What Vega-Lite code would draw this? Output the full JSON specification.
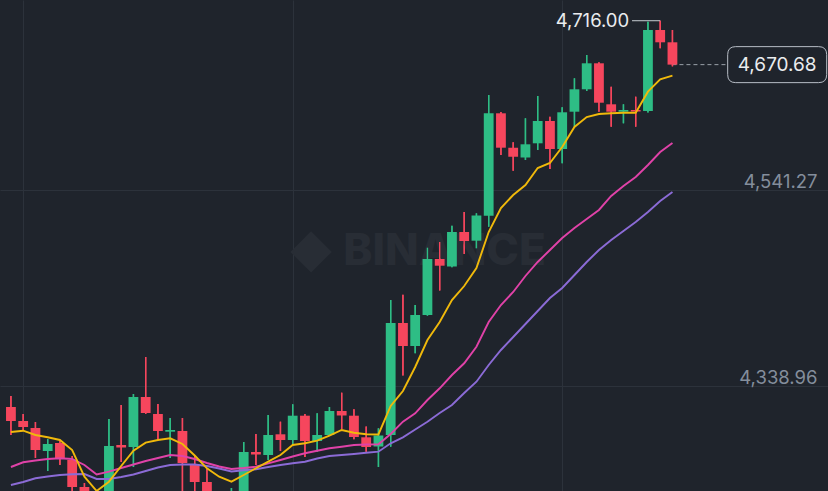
{
  "$schema": "https://vega.github.io/schema/vega-lite/v6.json",
  "width": 828,
  "height": 491,
  "autosize": "none",
  "padding": 0,
  "background": "#1f242c",
  "config": {
    "view": {"stroke": null},
    "font": "Inter",
    "axisX": {"grid": true, "gridColor": "#2c323b", "gridWidth": 1, "labels": false, "ticks": false, "domain": false, "title": null},
    "axisY": {"title": null, "domain": false, "ticks": false, "tickSize": 0, "labelPadding": -11, "labelAlign": "right", "labelBaseline": "alphabetic", "labelOffset": -3, "labelFont": "Inter", "labelFontSize": 18.5, "labelColor": "#848e9c", "grid": true, "gridColor": "#2c323b", "gridWidth": 1, "labelBound": false, "labelOverlap": false, "labelFlush": false}
  },
  "data": {"values": [
    {"i":0,"open":4317.29,"high":4328.64,"low":4288.39,"close":4302.84,"ma7":4291.48,"ma25":4255.36,"ma99":4236.78},
    {"i":1,"open":4302.84,"high":4310.06,"low":4293.55,"close":4296.64,"ma7":4292.83,"ma25":4260.21,"ma99":4239.87},
    {"i":2,"open":4295.61,"high":4301.81,"low":4264.65,"close":4272.90,"ma7":4288.39,"ma25":4262.07,"ma99":4243.69},
    {"i":3,"open":4271.87,"high":4284.26,"low":4251.23,"close":4279.10,"ma7":4286.01,"ma25":4263.61,"ma99":4245.55},
    {"i":4,"open":4280.13,"high":4282.19,"low":4257.42,"close":4264.65,"ma7":4283.23,"ma25":4264.34,"ma99":4247.10},
    {"i":5,"open":4262.58,"high":4266.71,"low":4229.55,"close":4234.71,"ma7":4272.90,"ma25":4263.61,"ma99":4247.82},
    {"i":6,"open":4234.71,"high":4238.84,"low":4195.49,"close":4205.81,"ma7":4245.34,"ma25":4257.42,"ma99":4248.13},
    {"i":7,"open":4205.81,"high":4210.97,"low":4174.85,"close":4190.33,"ma7":4230.58,"ma25":4247.62,"ma99":4242.97},
    {"i":8,"open":4195.49,"high":4304.90,"low":4190.33,"close":4277.03,"ma7":4240.18,"ma25":4250.51,"ma99":4242.97},
    {"i":9,"open":4278.07,"high":4319.35,"low":4260.52,"close":4275.48,"ma7":4256.39,"ma25":4254.33,"ma99":4245.04},
    {"i":10,"open":4276.00,"high":4330.71,"low":4255.36,"close":4327.61,"ma7":4272.18,"ma25":4257.94,"ma99":4247.62},
    {"i":11,"open":4327.61,"high":4368.90,"low":4310.06,"close":4311.10,"ma7":4280.44,"ma25":4261.55,"ma99":4251.23},
    {"i":12,"open":4310.06,"high":4320.39,"low":4283.23,"close":4292.52,"ma7":4283.23,"ma25":4264.65,"ma99":4254.84},
    {"i":13,"open":4291.79,"high":4305.93,"low":4264.65,"close":4293.55,"ma7":4284.98,"ma25":4267.74,"ma99":4257.42},
    {"i":14,"open":4292.52,"high":4305.93,"low":4224.39,"close":4259.49,"ma7":4279.10,"ma25":4266.71,"ma99":4257.94},
    {"i":15,"open":4257.42,"high":4266.71,"low":4221.29,"close":4239.87,"ma7":4267.23,"ma25":4263.61,"ma99":4257.94},
    {"i":16,"open":4239.87,"high":4253.29,"low":4210.97,"close":4221.29,"ma7":4254.02,"ma25":4259.49,"ma99":4256.39},
    {"i":17,"open":4221.29,"high":4226.46,"low":4200.65,"close":4210.97,"ma7":4245.34,"ma25":4255.87,"ma99":4253.81},
    {"i":18,"open":4205.81,"high":4233.68,"low":4195.49,"close":4226.46,"ma7":4240.18,"ma25":4253.29,"ma99":4250.71},
    {"i":19,"open":4221.29,"high":4281.16,"low":4216.13,"close":4270.84,"ma7":4247.10,"ma25":4254.33,"ma99":4251.95},
    {"i":20,"open":4270.84,"high":4289.42,"low":4257.42,"close":4268.26,"ma7":4254.02,"ma25":4255.67,"ma99":4252.98},
    {"i":21,"open":4267.74,"high":4309.03,"low":4262.58,"close":4288.39,"ma7":4260.83,"ma25":4259.18,"ma99":4255.36},
    {"i":22,"open":4289.11,"high":4302.12,"low":4271.87,"close":4283.23,"ma7":4267.74,"ma25":4262.58,"ma99":4257.42},
    {"i":23,"open":4283.23,"high":4320.08,"low":4278.07,"close":4308.31,"ma7":4278.07,"ma25":4266.20,"ma99":4259.18},
    {"i":24,"open":4308.31,"high":4310.06,"low":4265.68,"close":4282.19,"ma7":4279.82,"ma25":4269.50,"ma99":4260.83},
    {"i":25,"open":4282.19,"high":4310.79,"low":4271.15,"close":4288.39,"ma7":4282.50,"ma25":4272.18,"ma99":4264.13},
    {"i":26,"open":4288.39,"high":4317.29,"low":4287.36,"close":4313.16,"ma7":4287.66,"ma25":4274.66,"ma99":4266.71},
    {"i":27,"open":4313.16,"high":4332.05,"low":4294.58,"close":4308.52,"ma7":4293.55,"ma25":4276.31,"ma99":4267.74},
    {"i":28,"open":4308.31,"high":4314.91,"low":4283.95,"close":4286.32,"ma7":4290.76,"ma25":4278.07,"ma99":4268.78},
    {"i":29,"open":4286.01,"high":4297.16,"low":4271.15,"close":4276.00,"ma7":4289.11,"ma25":4278.58,"ma99":4270.01},
    {"i":30,"open":4276.52,"high":4295.30,"low":4255.36,"close":4287.87,"ma7":4288.90,"ma25":4278.79,"ma99":4271.15},
    {"i":31,"open":4288.39,"high":4427.73,"low":4276.31,"close":4403.99,"ma7":4318.32,"ma25":4289.42,"ma99":4279.82},
    {"i":32,"open":4403.99,"high":4433.20,"low":4349.80,"close":4380.25,"ma7":4333.80,"ma25":4302.12,"ma99":4286.01},
    {"i":33,"open":4380.25,"high":4422.57,"low":4372.72,"close":4412.25,"ma7":4358.58,"ma25":4310.79,"ma99":4294.06},
    {"i":34,"open":4412.25,"high":4481.72,"low":4411.53,"close":4470.05,"ma7":4386.45,"ma25":4324.51,"ma99":4302.12},
    {"i":35,"open":4470.05,"high":4487.60,"low":4437.54,"close":4463.14,"ma7":4405.02,"ma25":4336.59,"ma99":4311.10},
    {"i":36,"open":4462.31,"high":4504.42,"low":4461.49,"close":4497.92,"ma7":4427.73,"ma25":4350.32,"ma99":4319.35},
    {"i":37,"open":4497.92,"high":4518.57,"low":4475.21,"close":4488.63,"ma7":4442.18,"ma25":4362.40,"ma99":4331.74},
    {"i":38,"open":4488.94,"high":4517.22,"low":4481.10,"close":4514.95,"ma7":4460.76,"ma25":4379.53,"ma99":4343.40},
    {"i":39,"open":4514.75,"high":4639.33,"low":4503.39,"close":4620.44,"ma7":4497.92,"ma25":4405.02,"ma99":4360.64},
    {"i":40,"open":4620.44,"high":4621.78,"low":4577.40,"close":4584.94,"ma7":4522.69,"ma25":4422.57,"ma99":4376.12},
    {"i":41,"open":4584.94,"high":4590.51,"low":4561.20,"close":4575.65,"ma7":4536.11,"ma25":4435.99,"ma99":4389.54},
    {"i":42,"open":4574.82,"high":4615.28,"low":4572.24,"close":4588.44,"ma7":4546.43,"ma25":4452.51,"ma99":4402.96},
    {"i":43,"open":4589.48,"high":4638.30,"low":4582.56,"close":4612.49,"ma7":4563.98,"ma25":4466.96,"ma99":4416.38},
    {"i":44,"open":4612.49,"high":4616.93,"low":4562.95,"close":4583.59,"ma7":4569.14,"ma25":4479.34,"ma99":4429.80},
    {"i":45,"open":4583.59,"high":4626.64,"low":4568.83,"close":4621.48,"ma7":4585.66,"ma25":4491.73,"ma99":4440.12},
    {"i":46,"open":4622.09,"high":4656.57,"low":4606.61,"close":4645.22,"ma7":4606.30,"ma25":4502.05,"ma99":4453.54},
    {"i":47,"open":4645.22,"high":4680.62,"low":4643.46,"close":4672.05,"ma7":4616.62,"ma25":4511.34,"ma99":4466.96},
    {"i":48,"open":4672.05,"high":4673.08,"low":4622.09,"close":4631.38,"ma7":4619.72,"ma25":4520.63,"ma99":4479.34},
    {"i":49,"open":4629.73,"high":4647.90,"low":4606.61,"close":4622.09,"ma7":4620.44,"ma25":4535.08,"ma99":4489.66},
    {"i":50,"open":4622.09,"high":4629.73,"low":4610.12,"close":4623.85,"ma7":4621.06,"ma25":4545.40,"ma99":4498.95},
    {"i":51,"open":4623.85,"high":4637.58,"low":4606.61,"close":4622.30,"ma7":4621.06,"ma25":4554.69,"ma99":4508.24},
    {"i":52,"open":4622.82,"high":4715.00,"low":4621.27,"close":4706.42,"ma7":4642.74,"ma25":4567.08,"ma99":4518.57},
    {"i":53,"open":4706.42,"high":4716.00,"low":4687.54,"close":4693.73,"ma7":4655.54,"ma25":4580.50,"ma99":4529.92},
    {"i":54,"open":4693.73,"high":4706.42,"low":4668.90,"close":4670.68,"ma7":4659.25,"ma25":4589.79,"ma99":4539.21}
  ]},
  "layer": [
    {
      "mark": {"type": "rule", "strokeWidth": 1.4, "clip": true},
      "encoding": {
        "x": {"field": "i", "type": "quantitative",
              "scale": {"domain": [-0.484, 66.29], "nice": false, "zero": false},
              "axis": {"values": [1, 23, 45], "title": null}},
        "y": {"field": "low", "type": "quantitative",
              "scale": {"domain": [4230.58, 4737.39], "nice": false, "zero": false},
              "axis": {"orient": "right", "values": [4338.96, 4541.27], "format": ",.2f", "title": null}},
        "y2": {"field": "high"},
        "color": {"condition": {"test": "datum.close >= datum.open", "value": "#2ebd85"}, "value": "#f6465d"}
      }
    },
    {
      "transform": [{"filter": "datum.i == 54"}],
      "mark": {"type": "point", "shape": "diamond", "filled": true, "size": 1700, "color": "#282d35", "opacity": 1},
      "encoding": {
        "x": {"datum": 24.5, "type": "quantitative"},
        "y": {"datum": 4477.3, "type": "quantitative"}
      }
    },
    {
      "transform": [{"filter": "datum.i == 54"}],
      "mark": {"type": "text", "text": "BINANCE", "font": "Inter", "fontWeight": 800, "fontSize": 44, "color": "#282d35", "align": "center", "baseline": "middle"},
      "encoding": {
        "x": {"datum": 35.4, "type": "quantitative"},
        "y": {"datum": 4477.3, "type": "quantitative"}
      }
    },
    {
      "transform": [{"filter": "datum.i == 54"}],
      "mark": {"type": "rule", "color": "#9aa0a8", "strokeWidth": 1, "strokeDash": [4, 3]},
      "encoding": {
        "x": {"field": "i", "type": "quantitative"},
        "x2": {"datum": 58.5},
        "y": {"field": "close", "type": "quantitative"}
      }
    },
    {
      "mark": {"type": "rule", "strokeWidth": 1.4, "clip": true},
      "encoding": {
        "x": {"field": "i", "type": "quantitative"},
        "y": {"field": "low", "type": "quantitative"},
        "y2": {"field": "high"},
        "color": {"condition": {"test": "datum.close >= datum.open", "value": "#2ebd85"}, "value": "#f6465d"}
      }
    },
    {
      "mark": {"type": "bar", "size": 9.8, "clip": true},
      "encoding": {
        "x": {"field": "i", "type": "quantitative"},
        "y": {"field": "open", "type": "quantitative"},
        "y2": {"field": "close"},
        "color": {"condition": {"test": "datum.close >= datum.open", "value": "#2ebd85"}, "value": "#f6465d"}
      }
    },
    {
      "mark": {"type": "line", "color": "#8b6bd6", "strokeWidth": 1.9, "clip": true},
      "encoding": {
        "x": {"field": "i", "type": "quantitative"},
        "y": {"field": "ma99", "type": "quantitative"}
      }
    },
    {
      "mark": {"type": "line", "color": "#e042a8", "strokeWidth": 1.9, "clip": true},
      "encoding": {
        "x": {"field": "i", "type": "quantitative"},
        "y": {"field": "ma25", "type": "quantitative"}
      }
    },
    {
      "mark": {"type": "line", "color": "#f0b90b", "strokeWidth": 1.9, "clip": true},
      "encoding": {
        "x": {"field": "i", "type": "quantitative"},
        "y": {"field": "ma7", "type": "quantitative"}
      }
    },
    {
      "transform": [{"filter": "datum.i == 53"}],
      "mark": {"type": "rule", "color": "#c7ccd3", "strokeWidth": 1},
      "encoding": {
        "x": {"field": "i", "type": "quantitative"},
        "x2": {"datum": 50.7},
        "y": {"field": "high", "type": "quantitative"}
      }
    },
    {
      "transform": [{"filter": "datum.i == 53"}],
      "mark": {"type": "text", "align": "right", "baseline": "middle", "dx": -31, "font": "Inter", "fontSize": 18.5, "color": "#eaecef"},
      "encoding": {
        "x": {"field": "i", "type": "quantitative"},
        "y": {"field": "high", "type": "quantitative"},
        "text": {"field": "high", "type": "quantitative", "format": ",.2f"}
      }
    },
    {
      "transform": [{"filter": "datum.i == 54"}],
      "mark": {"type": "point", "shape": "M-0.8384,-0.3636L0.8384,-0.3636Q1,-0.3636,1,-0.202L1,0.202Q1,0.3636,0.8384,0.3636L-0.8384,0.3636Q-1,0.3636,-1,0.202L-1,-0.202Q-1,-0.3636,-0.8384,-0.3636Z", "size": 9801, "filled": true, "fill": "#1f242c", "stroke": "#b7bdc6", "strokeWidth": 1, "opacity": 1, "fillOpacity": 1, "strokeOpacity": 1},
      "encoding": {
        "x": {"datum": 62.55, "type": "quantitative"},
        "y": {"field": "close", "type": "quantitative"}
      }
    },
    {
      "transform": [{"filter": "datum.i == 54"}],
      "mark": {"type": "text", "align": "center", "baseline": "middle", "font": "Inter", "fontSize": 19, "color": "#eaecef"},
      "encoding": {
        "x": {"datum": 62.55, "type": "quantitative"},
        "y": {"field": "close", "type": "quantitative"},
        "text": {"field": "close", "type": "quantitative", "format": ",.2f"}
      }
    }
  ]
}
